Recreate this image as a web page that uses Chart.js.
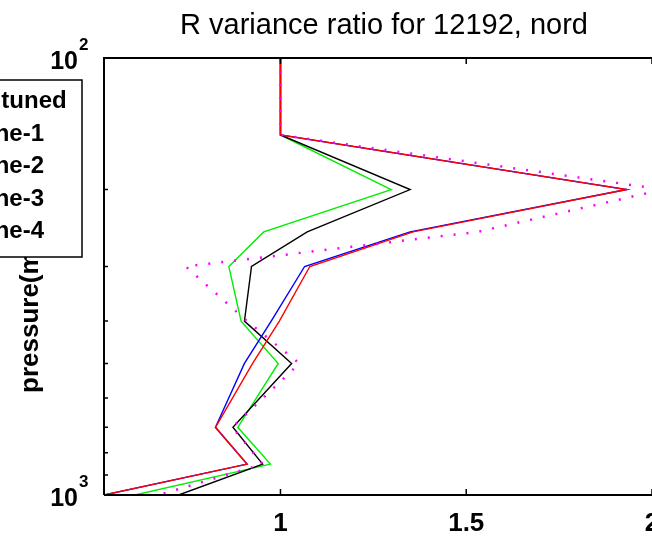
<!DOCTYPE html>
<html>
<head>
<meta charset="utf-8">
<script src="https://cdn.jsdelivr.net/npm/chart.js@4.4.1/dist/chart.umd.min.js"></script>
<style>
    html, body { margin: 0; padding: 0; background: #fff; overflow: hidden; }
</style>
</head>
<body>
<canvas id="chart" width="652" height="537"></canvas>
<script>
// pressure levels (mb) and variance ratio per run
var levels = [100, 150, 200, 250, 300, 400, 500, 700, 850, 1000];
var untuned = [1, 1, 1.349, 1.072, 0.922, 0.903, 1.03, 0.872, 0.952, 0.726];
var tune1 = [1, 1, 1.932, 1.349, 1.065, 0.975, 0.903, 0.825, 0.91, 0.525];
var tune2 = [1, 1, 1.932, 1.357, 1.079, 0.997, 0.925, 0.825, 0.91, 0.525];
var tune3 = [1, 1, 1.298, 0.955, 0.861, 0.894, 0.994, 0.885, 0.973, 0.608];
var tune4 = [1, 1, 2.03, 1.53, 0.745, 0.91, 1.051, 0.87, 0.952, 0.672];
var seriesNames = ['untuned', 'tune-1', 'tune-2', 'tune-3', 'tune-4'];
var xTicks = [1, 1.5, 2];
var yMajorTicks = [100, 1000];
var yMajorLabels = [['10', '2'], ['10', '3']];
var yMinorTicks = [200, 300, 400, 500, 600, 700, 800, 900];
var chartTitle = 'R variance ratio for 12192, nord';
var yTitle = 'pressure(mb)';

function pairs(values) {
    return values.map(function(v, i) {
        return { x: v, y: levels[i] };
    });
}

// MATLAB-like axes box, ticks, labels and legend
var matlabAxes = {
    id: 'matlabAxes',
    afterDraw: function(chart) {
        var ctx = chart.ctx;
        var area = chart.chartArea;
        var xs = chart.scales.x;
        var ys = chart.scales.y;
        ctx.save();

        // axes box
        ctx.strokeStyle = '#000';
        ctx.lineWidth = 2;
        ctx.beginPath();
        ctx.moveTo(area.left, area.bottom);
        ctx.lineTo(area.left, area.top);
        ctx.lineTo(area.right + 2, area.top);
        ctx.moveTo(area.left, area.bottom);
        ctx.lineTo(area.right + 2, area.bottom);
        ctx.stroke();

        // tick marks, inward
        ctx.lineWidth = 1.5;
        ctx.beginPath();
        xTicks.forEach(function(v) {
            var px = xs.getPixelForValue(v);
            ctx.moveTo(px, area.bottom);
            ctx.lineTo(px, area.bottom - 6);
            ctx.moveTo(px, area.top);
            ctx.lineTo(px, area.top + 6);
        });
        yMinorTicks.forEach(function(v) {
            var py = ys.getPixelForValue(v);
            ctx.moveTo(area.left, py);
            ctx.lineTo(area.left + 4, py);
        });
        ctx.stroke();

        // title
        ctx.fillStyle = '#000';
        ctx.font = '29px "Liberation Sans", Arial, sans-serif';
        ctx.textAlign = 'center';
        ctx.textBaseline = 'alphabetic';
        ctx.fillText(chartTitle, 384, 34);

        // y tick labels 10^n
        yMajorTicks.forEach(function(v, i) {
            var py = ys.getPixelForValue(v);
            ctx.font = 'bold 25px "Liberation Sans", Arial, sans-serif';
            ctx.textAlign = 'right';
            ctx.fillText(yMajorLabels[i][0], 78, py + 11);
            ctx.font = 'bold 17px "Liberation Sans", Arial, sans-serif';
            ctx.textAlign = 'left';
            ctx.fillText(yMajorLabels[i][1], 79, py - 8);
        });

        // y axis title
        ctx.save();
        ctx.translate(38, 393);
        ctx.rotate(-Math.PI / 2);
        ctx.font = 'bold 26px "Liberation Sans", Arial, sans-serif';
        ctx.textAlign = 'left';
        ctx.fillText(yTitle, 0, 0);
        ctx.restore();

        // legend box (left part falls outside the picture)
        ctx.fillStyle = '#fff';
        ctx.fillRect(-60, 80, 142, 177);
        ctx.lineWidth = 1.5;
        ctx.strokeRect(-60, 80, 142, 177);
        ctx.fillStyle = '#000';
        ctx.font = 'bold 24px "Liberation Sans", Arial, sans-serif';
        ctx.textAlign = 'left';
        seriesNames.forEach(function(name, i) {
            ctx.fillText(name, -28, 108 + 32.5 * i);
        });

        ctx.restore();
    }
};

var options = {
    type: 'line',
    data: {
        datasets: [{
            label: seriesNames[4],
            data: pairs(tune4),
            borderColor: '#ff00ff',
            borderWidth: 2.5,
            borderDash: [2, 11],
            order: 0
        }, {
            label: seriesNames[2],
            data: pairs(tune2),
            borderColor: '#ff0000',
            order: 1
        }, {
            label: seriesNames[1],
            data: pairs(tune1),
            borderColor: '#0000ff',
            order: 2
        }, {
            label: seriesNames[0],
            data: pairs(untuned),
            borderColor: '#000000',
            order: 3
        }, {
            label: seriesNames[3],
            data: pairs(tune3),
            borderColor: '#00ee00',
            order: 4
        }]
    },
    options: {
        responsive: false,
        animation: false,
        devicePixelRatio: 1,
        layout: {
            padding: { left: 104, top: 58, right: 0, bottom: 0 }
        },
        elements: {
            point: { radius: 0 },
            line: { borderWidth: 1.4, tension: 0, fill: false }
        },
        plugins: {
            legend: { display: false },
            tooltip: { enabled: false },
            title: { display: false }
        },
        scales: {
            x: {
                type: 'linear',
                min: 0.525,
                max: 2,
                grid: { display: false },
                border: { display: false },
                ticks: {
                    padding: 5,
                    color: '#000',
                    font: { family: '"Liberation Sans", Arial, sans-serif', size: 26, weight: 'bold' },
                    callback: function(v) { return String(v); }
                },
                afterBuildTicks: function(scale) {
                    scale.ticks = xTicks.map(function(v) { return { value: v }; });
                },
                afterFit: function(scale) {
                    scale.height = 42;
                    scale.paddingLeft = 0;
                    scale.paddingRight = 0;
                }
            },
            y: {
                type: 'logarithmic',
                min: 100,
                max: 1000,
                reverse: true,
                grid: { display: false },
                border: { display: false },
                ticks: { display: false },
                afterFit: function(scale) {
                    scale.width = 0;
                    scale.paddingTop = 0;
                    scale.paddingBottom = 0;
                }
            }
        }
    },
    plugins: [matlabAxes]
};

var chart = new Chart(document.getElementById('chart'), options);
</script>
</body>
</html>
